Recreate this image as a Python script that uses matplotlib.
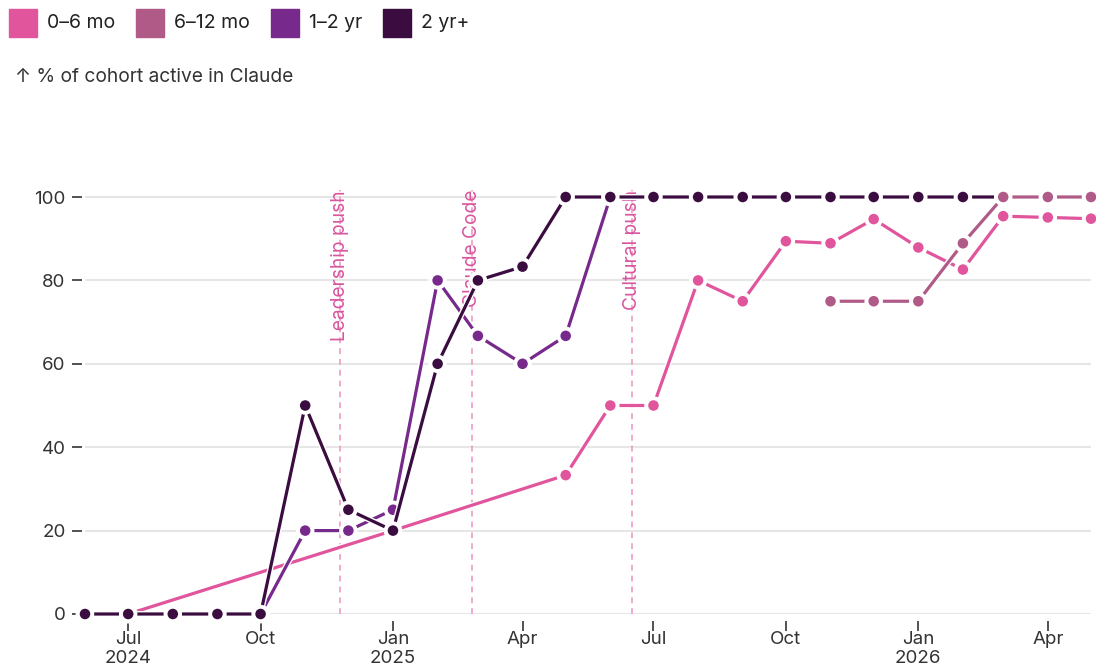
import numpy as np
import pandas as pd
import matplotlib
matplotlib.use('Agg')
import matplotlib.pyplot as plt
import matplotlib.dates as mdates
import matplotlib.patheffects as pe
from matplotlib.patches import Rectangle

plt.rcParams['font.family'] = ['Inter', 'DejaVu Sans']

# monthly snapshots, Jun 2024 .. May 2026
months = pd.date_range('2024-06-01', '2026-05-01', freq='MS')
nan = np.nan

cohort_0_6 = [nan, 0, nan, nan, nan, nan, nan, 20, nan, nan, nan, 33.3,
              50, 50, 80, 75, 89.4, 88.9, 94.7, 87.9, 82.6, 95.4, 95.1, 94.8]
cohort_6_12 = [nan] * 17 + [75, 75, 75, 88.9, 100, 100, 100]
cohort_1_2 = [0, 0, 0, 0, 0, 20, 20, 25, 80, 66.7, 60, 66.7,
              100, 100, 100, 100, 100, 100, 100, 100, 100, 100, 100, 100]
cohort_2plus = [0, 0, 0, 0, 0, 50, 25, 20, 60, 80, 83.3, 100,
                100, 100, 100, 100, 100, 100, 100, 100, 100, 100, 100, 100]

labels = ['0–6 mo', '6–12 mo', '1–2 yr', '2 yr+']
colors = ['#e0559c', '#b05a88', '#782a8c', '#3a0c40']
series = [cohort_0_6, cohort_6_12, cohort_1_2, cohort_2plus]
draw_order = [0, 2, 3, 1]

events = ['Leadership push', 'Claude Code', 'Cultural push']
event_dates = pd.to_datetime(['2024-11-25', '2025-02-25', '2025-06-16'])

tick_dates = pd.to_datetime(['2024-07-01', '2024-10-01', '2025-01-01', '2025-04-01',
                             '2025-07-01', '2025-10-01', '2026-01-01', '2026-04-01'])
tick_labels = ['Jul\n2024', 'Oct', 'Jan\n2025', 'Apr', 'Jul', 'Oct', 'Jan\n2026', 'Apr']

W, H = 1096, 665
fig = plt.figure(figsize=(W / 100, H / 100), dpi=100)
ax = fig.add_axes([85 / W, 51 / H, 1006 / W, 424 / H])

x = mdates.date2num(months)
for z, i in enumerate(draw_order):
    y = np.array(series[i], dtype=float)
    m = ~np.isnan(y)
    ax.plot(x[m], y[m], color=colors[i], lw=2.3, marker='o', ms=9,
            mec='white', mew=1.4, zorder=3 + z, clip_on=False,
            path_effects=[pe.Stroke(linewidth=4.3, foreground='white'), pe.Normal()])

ytop = 100 * 424 / 417
for d, lab in zip(event_dates, events):
    ax.axvline(mdates.date2num(d), color='#ec9cc6', lw=1.2, ls=(0, (3.5, 3)), zorder=2)
    ax.text(mdates.date2num(d), ytop, lab, rotation=90, ha='center', va='top',
            color='#d9569e', fontsize=13.8, zorder=2.5)

ax.set_xlim(mdates.date2num(pd.Timestamp('2024-06-01')), mdates.date2num(pd.Timestamp('2026-05-01')))
ax.set_ylim(0, ytop)
ax.set_yticks(range(0, 101, 20))
ax.set_xticks(mdates.date2num(tick_dates))
ax.set_xticklabels(tick_labels, linespacing=1.12)

for s in ax.spines.values():
    s.set_visible(False)
ax.spines['bottom'].set_position(('outward', 5))
ax.spines['left'].set_position(('outward', 2))

ax.yaxis.grid(True, color='#e6e6e6', lw=1.5)
ax.set_axisbelow(True)
ax.tick_params(axis='y', length=7, width=1.2, color='#333333', pad=5,
               labelsize=13.5, labelcolor='#333333')
ax.tick_params(axis='x', length=7, width=1.2, color='#333333', pad=0,
               labelsize=13.5, labelcolor='#333333')

# legend swatches
leg_x = [9, 136, 271, 383]
for lab, col, x0 in zip(labels, colors, leg_x):
    fig.add_artist(Rectangle((x0 / W, 1 - 37 / H), 28 / W, 28 / H,
                             transform=fig.transFigure, color=col))
    fig.text((x0 + 38) / W, 1 - 23 / H, lab, va='center', fontsize=14, color='#222222')

fig.text(15 / W, 1 - 77 / H, '↑ % of cohort active in Claude', va='center',
         fontsize=13.8, color='#333333')

fig.savefig('out.png', dpi=100)
